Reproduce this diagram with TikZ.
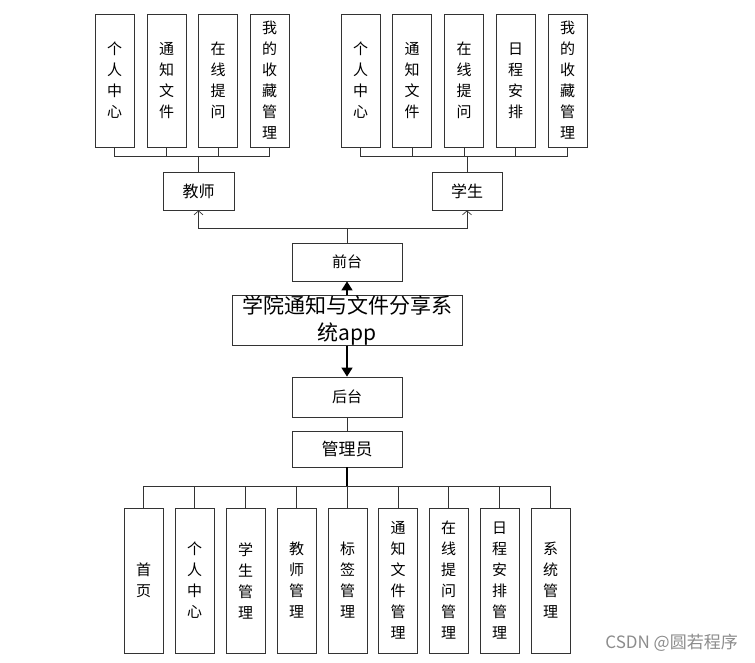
\documentclass[tikz,border=0pt]{standalone}
\usepackage{fontspec}
\setmainfont{Noto Sans CJK SC}
\usetikzlibrary{arrows.meta}
\begin{document}
\begin{tikzpicture}[x=1pt,y=-1pt,
  box/.style={draw=black!80, line width=0.8pt, fill=white, inner sep=0pt, align=center},
  vbox/.style={box, minimum width=39pt, font=\fontsize{15}{21}\selectfont},
  topv/.style={vbox, minimum height=133pt},
  botv/.style={vbox, minimum height=145pt},
  hbox/.style={box, minimum width=110pt, font=\fontsize{15}{17}\selectfont},
  link/.style={draw=black!80, line width=0.7pt},
  openarrow/.style={link, -{Straight Barb[length=4pt,width=9pt]}},
  bigarrow/.style={draw=black, line width=1.6pt, -{Triangle[length=9pt,width=11pt]}}
]
\useasboundingbox (0,0) rectangle (755,663);

% teacher group
\node[topv] (t1) at (114.5,80.5) {个\\人\\中\\心};
\node[topv] (t2) at (166.5,80.5) {通\\知\\文\\件};
\node[topv] (t3) at (218,80.5) {在\\线\\提\\问};
\node[topv] (t4) at (269.5,80.5) {我\\的\\收\\藏\\管\\理};
\node[box, minimum width=71pt, minimum height=38pt, font=\fontsize{16}{18}\selectfont] (teacher) at (198.5,191) {教师};
\coordinate (tj) at (198.5,156);
\foreach \n in {t1,t2,t3,t4} \draw[link] (\n.south) |- (tj);
\draw[link] (tj) -- (teacher.north);

% student group
\node[topv] (s1) at (360.5,80.5) {个\\人\\中\\心};
\node[topv] (s2) at (412,80.5) {通\\知\\文\\件};
\node[topv] (s3) at (464,80.5) {在\\线\\提\\问};
\node[topv] (s4) at (515.5,80.5) {日\\程\\安\\排};
\node[topv] (s5) at (567.5,80.5) {我\\的\\收\\藏\\管\\理};
\node[box, minimum width=70pt, minimum height=38pt, font=\fontsize{16}{18}\selectfont] (student) at (467,191) {学生};
\coordinate (sj) at (467,156);
\foreach \n in {s1,s2,s3,s4,s5} \draw[link] (\n.south) |- (sj);
\draw[link] (sj) -- (student.north);

% front
\node[hbox, minimum height=38pt] (front) at (347,262) {前台};
\coordinate (fj) at (347,228);
\draw[link] (front.north) -- (fj);
\draw[openarrow] (fj) -| (teacher.south);
\draw[openarrow] (fj) -| (student.south);

% main
\node[box, minimum width=230pt, minimum height=49pt, font=\fontsize{21}{27}\selectfont] (main) at (347,320.5) {学院通知与文件分享系\\统app};
\draw[bigarrow] (main.north) -- (front.south);

% back
\node[hbox, minimum height=40pt] (back) at (347,397) {后台};
\draw[bigarrow] (main.south) -- (back.north);
\node[hbox, minimum height=36pt, font=\fontsize{17}{19}\selectfont] (admin) at (347,449) {管理员};
\draw[link] (back.south) -- (admin.north);

% admin group
\coordinate (aj) at (347,486);
\draw[draw=black, line width=1.5pt] (admin.south) -- (aj);
\node[botv] (b1) at (143.5,580.5) {首\\页};
\node[botv] (b2) at (194.5,580.5) {个\\人\\中\\心};
\node[botv] (b3) at (245.5,580.5) {学\\生\\管\\理};
\node[botv] (b4) at (296.5,580.5) {教\\师\\管\\理};
\node[botv] (b5) at (347.5,580.5) {标\\签\\管\\理};
\node[botv] (b6) at (398,580.5) {通\\知\\文\\件\\管\\理};
\node[botv] (b7) at (448.5,580.5) {在\\线\\提\\问\\管\\理};
\node[botv] (b8) at (499.5,580.5) {日\\程\\安\\排\\管\\理};
\node[botv] (b9) at (550.5,580.5) {系\\统\\管\\理};
\foreach \n in {b1,b2,b3,b4,b5,b6,b7,b8,b9} \draw[link] (aj) -| (\n.north);

% watermark
\node[anchor=east, inner sep=0pt, text=black!45, font=\fontsize{17}{18}\selectfont] (wm) at (738,643) {CSDN @圆若程序};
\end{tikzpicture}
\end{document}
